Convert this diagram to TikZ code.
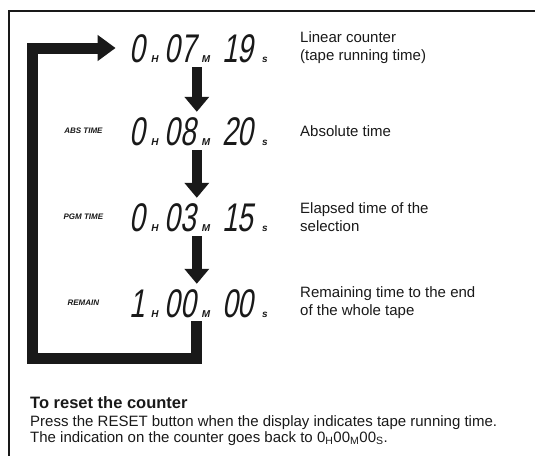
\documentclass[tikz,border=0pt]{standalone}
\usepackage{fontspec}
\setmainfont{Liberation Sans}
\newfontfamily\lcdfont{Liberation Sans}[FakeStretch=0.7, FakeSlant=0.18]
\usepackage{tikz}
\usetikzlibrary{arrows.meta, calc, positioning}
\definecolor{inkblack}{RGB}{25, 25, 25}
\newcommand{\unitsym}[1]{{\fontsize{10}{10}\selectfont\bfseries\itshape #1}}
\newcommand{\lcdnum}[1]{{\fontsize{40}{40}\selectfont\lcdfont #1}}
\newcommand{\lcdtime}[3]{\lcdnum{#1}\hspace{6pt}\unitsym{H}\hspace{6pt}%
	\lcdnum{#2}\hspace{6pt}\unitsym{M}\hspace{12pt}\lcdnum{#3}\hspace{9pt}\unitsym{s}}

\begin{document}
\begin{tikzpicture}[x=1pt, y=-1pt, inkblack,
				display/.style={anchor=east, inner sep=0pt, text width=142pt, align=right,
					text height=28pt, text depth=0pt},
				desc/.style={inner sep=0pt, align=left, font=\fontsize{15}{18}\selectfont},
				tag/.style={inner sep=0pt, minimum width=42pt,
					font=\fontsize{8}{8}\selectfont\bfseries\itshape},
				stepdown/.style={-{Triangle[length=15pt, width=24pt]}, line width=10pt,
					shorten <=5pt, shorten >=5pt},
				loopbar/.style={-{Triangle[length=18pt, width=25pt]}, line width=11pt,
					shorten >=10pt},
				frameline/.style={line width=1.2pt},
				headline/.style={inner sep=0pt, font=\fontsize{16.5}{18}\selectfont\bfseries},
				bodytext/.style={inner sep=0pt, font=\fontsize{15}{16}\selectfont}]
				\useasboundingbox (0,0) rectangle (535,456);
				%--- frame ---
				\draw[frameline] (535,11) -| (9,456);
				%--- displays ---
				\node[display] (disp1) at (268,48) {\lcdtime{0}{07}{19}};
				\node[display] (disp2) at (268,131) {\lcdtime{0}{08}{20}};
				\node[display] (disp3) at (268,217) {\lcdtime{0}{03}{15}};
				\node[display] (disp4) at (268,303) {\lcdtime{1}{00}{00}};
				\node[tag, left=21pt of disp2] (tag2) {ABS TIME};
				\node[tag, left=21pt of disp3] (tag3) {PGM TIME};
				\node[tag, left=21pt of disp4] (tag4) {REMAIN};
				\node[desc, right=32pt of disp1] (desc1) {Linear counter\\(tape running time)};
				\node[desc, right=32pt of disp2] (desc2) {Absolute time};
				\node[desc, right=32pt of disp3] (desc3) {Elapsed time of the\\selection};
				\node[desc, right=32pt of disp4] (desc4) {Remaining time to the end\\of the whole tape};
				%--- arrows ---
				\draw[stepdown] (disp1.south) -- (disp2.north);
				\draw[stepdown] (disp2.south) -- (disp3.north);
				\draw[stepdown] (disp3.south) -- (disp4.north);
				% back to the linear counter
				\coordinate (loopcorner) at (32,358);
				\draw[loopbar] ([yshift=-4pt]disp4.south) |- (loopcorner) |- (disp1.west);
				%--- reset note ---
				\node[headline, anchor=base west] (rsthead) at (30,408) {To reset the counter};
				\node[bodytext, anchor=base west] (rstline1) at ($(rsthead.base west)+(0,18)$)
				{Press the RESET button when the display indicates tape running time.};
				\node[bodytext, anchor=base west] (rstline2) at ($(rstline1.base west)+(0,16)$)
				{The indication on the counter goes back to 0\textsubscript{H}00\textsubscript{M}00\textsubscript{S}.};
			\end{tikzpicture}
\end{document}
